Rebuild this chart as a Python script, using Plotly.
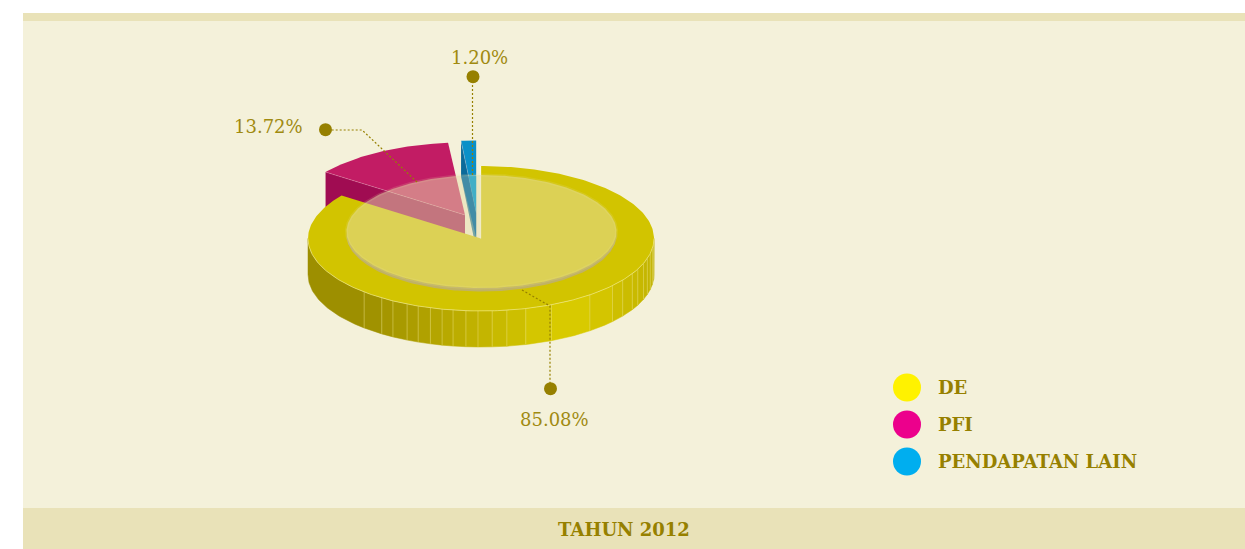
import math
import plotly.graph_objects as go

# ---------- data ----------
categories = ["DE", "PFI", "PENDAPATAN LAIN"]
shares = [85.08, 13.72, 1.20]
share_labels = ["85.08%", "13.72%", "1.20%"]
title_text = "TAHUN 2012"
legend_colors = ["#FFF200", "#EC008C", "#00AEEF"]

# ---------- style / geometry ----------
W, H = 1245, 549
CX, CY, RX, RY, DEPTH = 481, 238.5, 173, 72.5, 36
INK = "#968000"
BG = "#F4F1DA"
BAND = "#E9E2B8"
TOP = ["#D2C400", "#C21C64", "#0A90C8"]
SIDE = ["#9E9000", "#A00C52", "#0A6A9A"]
OFFSET = [(0, 0), (-16, -23.5), (-4.8, -25.5)]
PAD_END = [0, 1.3, 0]      # visual gap at the clockwise end of a slice
PAD_START = [0, 0, 0.7]    # visual widening at the start of a slice
STRIPES = [-42.5, -35, -30.6, -25.3, -21.3, -17, -13, -9.3, -5, -1, 3.7, 8.6,
           15, 24, 39, 49.5, 55, 61, 65, 70, 74, 78, 82, 86, 90]
WALL_STOPS = [(-90, (157, 143, 0)), (-42, (157, 143, 0)), (-20, (175, 160, 0)),
              (0, (195, 180, 0)), (24, (216, 202, 0)), (39, (216, 202, 0)),
              (50, (207, 192, 0)), (90, (188, 173, 0))]
SERIF = "DejaVu Serif"


def pt(theta, dx=0, dy=0, rx=RX, ry=RY, cx=CX, cy=CY):
    t = math.radians(theta)
    return cx + dx + rx * math.sin(t), cy + dy - ry * math.cos(t)


def arc(a, b, dx=0, dy=0, **kw):
    n = max(2, int(abs(b - a)) + 2)
    return [pt(a + (b - a) * i / (n - 1), dx, dy, **kw) for i in range(n)]


def poly(points, fill, line="rgba(0,0,0,0)", width=0):
    xs = [p[0] for p in points] + [points[0][0]]
    ys = [p[1] for p in points] + [points[0][1]]
    return go.Scatter(x=xs, y=ys, mode="lines", fill="toself", fillcolor=fill,
                      line=dict(color=line, width=width), hoverinfo="skip", showlegend=False)


def path(points, color, width=1, dash=None):
    return go.Scatter(x=[p[0] for p in points], y=[p[1] for p in points], mode="lines",
                      line=dict(color=color, width=width, dash=dash),
                      hoverinfo="skip", showlegend=False)


def wall_color(a):
    for (a0, c0), (a1, c1) in zip(WALL_STOPS, WALL_STOPS[1:]):
        if a0 <= a <= a1:
            f = (a - a0) / (a1 - a0)
            c = [round(u + (v - u) * f) for u, v in zip(c0, c1)]
            return f"rgb({c[0]},{c[1]},{c[2]})"
    return "rgb(188,173,0)"


# slice angles, clockwise from the top
spans = []
start = 0.0
for s, ps, pe in zip(shares, PAD_START, PAD_END):
    end = start + s * 3.6
    spans.append((start - ps, end - pe))
    start = end

traces = []

# magenta and blue (behind the large slice)
for i in (1, 2):
    a, b = spans[i]
    dx, dy = OFFSET[i]
    apex = (CX + dx, CY + dy)
    outer = pt(a, dx, dy)
    traces.append(poly([outer, (outer[0], outer[1] + DEPTH),
                        (apex[0], apex[1] + DEPTH), apex], SIDE[i]))
    traces.append(poly([apex] + arc(a, b, dx, dy), TOP[i]))
    traces.append(path([outer, apex], "rgba(255,220,230,0.35)", 0.7))

# large slice: front wall in shaded stripes
a, b = spans[0]
wall_edges = [-90] + STRIPES
for lo, hi in zip(wall_edges, wall_edges[1:]):
    top_arc = arc(180 - hi, 180 - lo)
    col = wall_color((lo + hi) / 2)
    traces.append(poly(top_arc + [(x, y + DEPTH) for x, y in reversed(top_arc)], col, col, 0.5))
for s_ in STRIPES[:-1]:
    x, y = pt(180 - s_)
    traces.append(path([(x, y), (x, y + DEPTH)], "rgba(240,232,140,0.5)", 0.8))
# top face
traces.append(poly([(CX, CY)] + arc(a, b), TOP[0]))
traces.append(path(arc(90, 270), "rgba(245,238,150,0.75)", 0.8))
traces.append(path([(CX - 0.5, CY - RY), (CX - 0.5, CY)], "rgba(255,255,240,0.5)", 1.5))

# glass disc on the top of the pie
DCX, DCY, DRX, DRY = 481.5, 231.5, 135, 56.5
traces.append(poly(arc(90, 270, rx=DRX, ry=DRY, cx=DCX, cy=DCY)
                   + arc(270, 90, 0, 3.5, rx=DRX, ry=DRY, cx=DCX, cy=DCY),
                   "rgba(192,178,100,1)"))
traces.append(poly(arc(0, 360, rx=DRX, ry=DRY, cx=DCX, cy=DCY),
                   "rgba(230,221,170,0.5)", "rgba(236,228,170,0.15)", 3))

# the blue slice stays more saturated under the glass
da, db = spans[2]
ddx, ddy = OFFSET[2]
b_outer = pt(da, ddx, ddy)
b_apex = (CX + ddx, CY + ddy)
disc_top = DCY - DRY + 1
frac = (disc_top - b_outer[1]) / (b_apex[1] - b_outer[1])
cross = (b_outer[0] + (b_apex[0] - b_outer[0]) * frac, disc_top)
traces.append(poly([cross, (b_apex[0], disc_top), b_apex], "rgba(0,165,215,0.45)"))
traces.append(poly([(b_outer[0], disc_top), cross, b_apex, (b_apex[0], CY - 1)],
                   "rgba(0,110,170,0.45)"))

# leader lines and their dots
leaders = {
    0: [(522, 290), (550, 306), (550, 389)],
    1: [(417, 182), (362, 130), (325, 130)],
    2: [(472.5, 175), (472.5, 77)],
}
for i, pts in leaders.items():
    traces.append(path(pts, INK, 1.2, "2px,2px"))
    traces.append(go.Scatter(x=[pts[-1][0] + 0.5], y=[pts[-1][1] - 0.3], mode="markers",
                             marker=dict(color=INK, size=13), hoverinfo="skip", showlegend=False))

# legend
leg_x, leg_y = 907, [387.5, 424.5, 461.5]
traces.append(go.Scatter(x=[leg_x] * 3, y=leg_y, mode="markers",
                         marker=dict(color=legend_colors, size=28),
                         customdata=categories, hoverinfo="skip", showlegend=False))

fig = go.Figure(traces)

ann = []
for txt, x, y in zip(share_labels, (554, 268.5, 479), (419, 126.5, 57.5)):
    ann.append(dict(x=x, y=y, text=txt, showarrow=False, xanchor="center", yanchor="middle",
                    font=dict(family=SERIF, size=18, color="#A08A10")))
for txt, y in zip(categories, leg_y):
    ann.append(dict(x=935.5, y=y - 0.5, text=f"<b>{txt}</b>", showarrow=False, xanchor="left",
                    yanchor="middle", font=dict(family=SERIF, size=18, color=INK)))
ann.append(dict(x=624, y=529.5, text=f"<b>{title_text}</b>", showarrow=False, xanchor="center",
                yanchor="middle", font=dict(family=SERIF, size=18, color=INK)))

fig.update_layout(
    width=W, height=H, autosize=False,
    margin=dict(l=0, r=0, t=0, b=0, pad=0),
    paper_bgcolor="white", plot_bgcolor="white",
    xaxis=dict(range=[0, W], visible=False, fixedrange=True),
    yaxis=dict(range=[H, 0], visible=False, fixedrange=True),
    showlegend=False, hovermode=False,
    annotations=ann,
    shapes=[
        dict(type="rect", x0=23, x1=W, y0=13, y1=508, fillcolor=BG, line_width=0, layer="below"),
        dict(type="rect", x0=23, x1=W, y0=13, y1=21, fillcolor=BAND, line_width=0, layer="below"),
        dict(type="rect", x0=23, x1=W, y0=508, y1=H, fillcolor=BAND, line_width=0, layer="below"),
    ],
)

fig.write_html("out.html", config={"displayModeBar": False},
               post_script="document.body.style.margin='0';document.body.style.overflow='hidden';")
